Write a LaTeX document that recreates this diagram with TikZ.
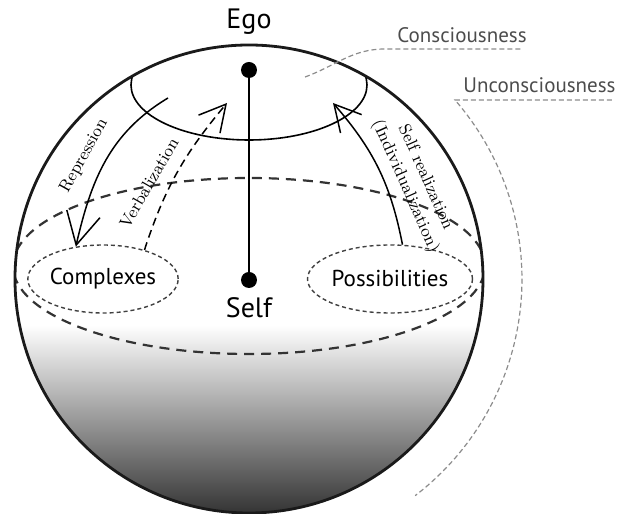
\documentclass[tikz,border=0pt]{standalone}
\usepackage{fontspec}
\setsansfont{PT Sans}
\usetikzlibrary{arrows.meta,shapes.geometric}

\definecolor{rim}{HTML}{1A1A1A}
\definecolor{leadgray}{HTML}{8C8C8C}
\definecolor{zonegray}{HTML}{333333}

\begin{document}
\begin{tikzpicture}[x=0.5pt, y=0.5pt,
  psyche/.style={draw=rim, line width=1.4pt},
  horizon/.style={draw=zonegray, line width=1.1pt, dash pattern=on 5pt off 3.5pt},
  zone/.style={ellipse, minimum width=#1, minimum height=34pt, inner sep=0pt,
               draw=black!75, line width=0.7pt, dash pattern=on 2pt off 1.5pt,
               font=\sffamily\fontsize{11.5}{13}\selectfont},
  pole/.style={circle, fill=black, inner sep=0pt, minimum size=8pt},
  big/.style={font=\sffamily\fontsize{14}{16}\selectfont, inner sep=0pt},
  note/.style={font=\sffamily\fontsize{10.5}{12}\selectfont, text=black!70, inner sep=0pt},
  tag/.style={font=\rmfamily\fontsize{8.5}{11}\selectfont, inner sep=0pt},
  flow/.style={line width=0.75pt, -{Straight Barb[length=13pt, width=14pt]}},
  leader/.style={draw=leadgray, line width=0.6pt, dash pattern=on 2.5pt off 1.5pt},
]
\useasboundingbox (0,0) rectangle (618,514);
\coordinate (c) at (249,235);

% inside of the sphere
\begin{scope}
  \clip (c) circle [radius=234];
  \shade[top color=white, bottom color=black!80] (0,0) rectangle (618,189);
  \draw[line width=0.8pt] (249,429) ellipse [x radius=118, y radius=55];
  \draw[horizon] (249,248) ellipse [x radius=236, y radius=88];
\end{scope}
\draw[psyche] (c) circle [radius=234];

\node[pole] (ego) at (249,444) {};
\node[pole] (self) at (249,234) {};
\draw[line width=0.8pt] (ego) -- (self);
\node[big] (egolbl) at (249,492) {Ego};
\node[big] (selflbl) at (249,206) {Self};

\node[zone=66pt] (cpx) at (103,235) {Complexes};
\node[zone=67pt] (pos) at (390,235) {Possibilities};

% arrows
\coordinate (repr) at (168,416);
\coordinate (verb) at (227,411);
\coordinate (real) at (333,411);
\draw[flow, -{Straight Barb[length=16pt, width=17pt]}] (repr) to[out=211, in=77] (cpx.130);
\draw[flow, dash pattern=on 4pt off 2.5pt] (cpx.35) to[out=72, in=-130] (verb);
\draw[flow] (pos.70) to[out=101, in=-49] (real);

\node[tag, rotate=61] (replbl) at (84,358) {Repression};
\node[tag, rotate=60] (verblbl) at (149,331) {Verbalization};
\node[tag, rotate=-66, align=center] (reallbl) at (415,332) {Self realization\\(Individualization)};

% side labels
\node[note] (con) at (462,479) {Consciousness};
\coordinate (conin) at (305,437);
\coordinate (conbend) at (385,465);
\coordinate (conend) at (522,465);
\draw[leader] (conin) to[out=20, in=180] (conbend) -- (conend);

\node[note, anchor=west] (uncon) at (463,429) {Unconsciousness};
\coordinate (unend) at (612,414);
\coordinate (unbend) at (455,414);
\draw[leader] (unend) -- (unbend) arc [start angle=41, end angle=-52.5, radius=273];
\end{tikzpicture}
\end{document}
